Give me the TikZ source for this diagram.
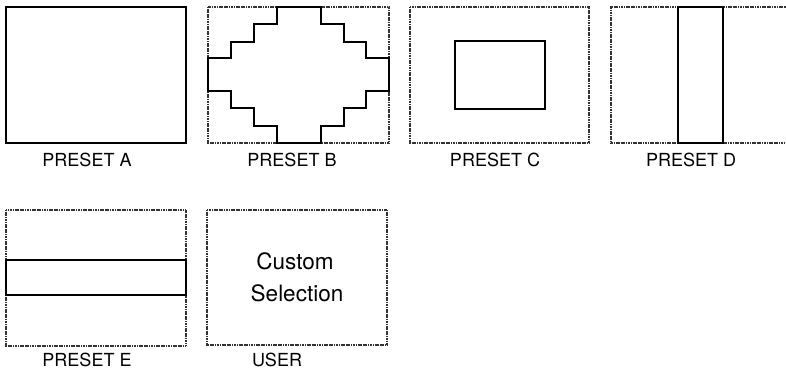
\documentclass[tikz,border=0pt]{standalone}
\usepackage{fontspec}
\setmainfont{TeX Gyre Heros}
\begin{document}
\begin{tikzpicture}[x=1pt,y=-1pt,
  solidbox/.style={draw=black,line width=2.9pt,line join=miter},
  dotbox/.style={draw=black!80,line width=1.1pt,dash pattern=on 1.2pt off 0.5pt},
  lbl/.style={anchor=base,inner sep=0pt,text depth=0pt,font=\fontsize{18}{20}\selectfont},
  big/.style={anchor=base,inner sep=0pt,text depth=0pt,font=\fontsize{22.5}{26}\selectfont}]
\useasboundingbox[fill=white] (0,0) rectangle (786,369);
% PRESET A
\draw[solidbox] (6,7) rectangle (186,143);
\node[lbl] (la) at (87,166) {PRESET A};
% PRESET B
\draw[dotbox] (208,7) rectangle (389,143);
\draw[solidbox] (277,7) -- (321,7) -- (321,24) -- (344,24) -- (344,42) -- (366,42) -- (366,58) -- (389,58)
  -- (389,91) -- (366,91) -- (366,108) -- (344,108) -- (344,126) -- (321,126) -- (321,143) -- (277,143)
  -- (277,126) -- (254,126) -- (254,108) -- (231,108) -- (231,91) -- (208,91) -- (208,58) -- (231,58)
  -- (231,42) -- (254,42) -- (254,24) -- (277,24) -- cycle;
\node[lbl] (lb) at (292,166) {PRESET B};
% PRESET C
\draw[dotbox] (410,7) rectangle (589,143);
\draw[solidbox] (455,41) rectangle (545,109);
\node[lbl] (lc) at (495,166) {PRESET C};
% PRESET D
\draw[dotbox] (790,7) -- (611,7) -- (611,143) -- (790,143);
\draw[solidbox] (678,7) rectangle (723,143);
\node[lbl] (ld) at (691,166) {PRESET D};
% PRESET E
\draw[dotbox] (6,210) rectangle (186,346);
\draw[solidbox] (6,260) rectangle (186,295);
\node[lbl] (le) at (87,366) {PRESET E};
% USER
\draw[dotbox] (207,210) rectangle (387,345);
\node[big] (cu) at (295,269) {Custom};
\node[big] (se) at (297,301) {Selection};
\node[lbl] (lu) at (277,366) {USER};
\end{tikzpicture}
\end{document}
